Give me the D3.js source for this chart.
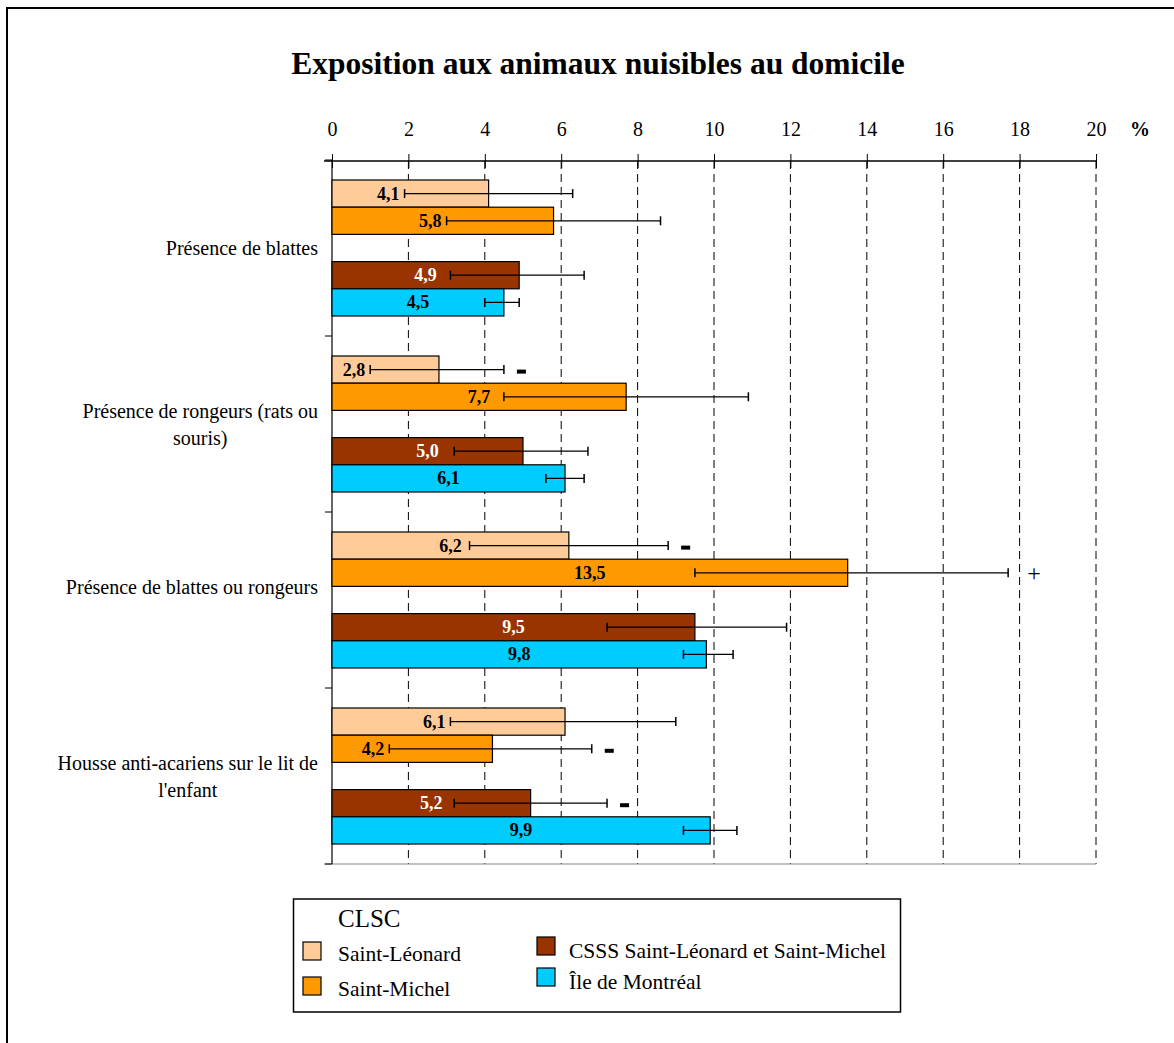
<!DOCTYPE html>
<html><head><meta charset="utf-8">
<script src="https://cdn.jsdelivr.net/npm/d3@7"></script>
<style>
body{margin:0;background:#fff;}
svg text{font-family:"Liberation Serif","Times New Roman",serif;}
</style></head>
<body><svg id="c" width="1174" height="1043"></svg>
<script>
const title = "Exposition aux animaux nuisibles au domicile";
const categories = ["Présence de blattes", "Présence de rongeurs (rats ou souris)", "Présence de blattes ou rongeurs", "Housse anti-acariens sur le lit de l'enfant"];
const categoryLines = [["Présence de blattes"], ["Présence de rongeurs (rats ou", "souris)"], ["Présence de blattes ou rongeurs", ""], ["Housse anti-acariens sur le lit de", "l'enfant"]];
const series = ["Saint-Léonard", "Saint-Michel", "CSSS Saint-Léonard et Saint-Michel", "Île de Montréal"];
const colors = ["#FFCC99", "#FF9900", "#993300", "#00CCFF"];
const labelColors = ["#000", "#000", "#fff", "#000"];
const valSaintLeonard = [4.1, 2.8, 6.2, 6.1];
const valSaintMichel = [5.8, 7.7, 13.5, 4.2];
const valCSSS = [4.9, 5.0, 9.5, 5.2];
const valIle = [4.5, 6.1, 9.8, 9.9];
const lowSaintLeonard = [1.9, 1.0, 3.6, 3.1];
const highSaintLeonard = [6.3, 4.5, 8.8, 9.0];
const lowSaintMichel = [3.0, 4.5, 9.5, 1.5];
const highSaintMichel = [8.6, 10.9, 17.7, 6.8];
const lowCSSS = [3.1, 3.2, 7.2, 3.2];
const highCSSS = [6.6, 6.7, 11.9, 7.2];
const lowIle = [4.0, 5.6, 9.2, 9.2];
const highIle = [4.9, 6.6, 10.5, 10.6];
const sigSaintLeonard = ["", "-", "-", ""];
const sigSaintMichel = ["", "", "+", "-"];
const sigCSSS = ["", "", "", "-"];
const sigIle = ["", "", "", ""];
const xTicks = [0, 2, 4, 6, 8, 10, 12, 14, 16, 18, 20];
const unitLabel = "%";
const legendTitle = "CLSC";

const values = [valSaintLeonard, valSaintMichel, valCSSS, valIle];
const lows = [lowSaintLeonard, lowSaintMichel, lowCSSS, lowIle];
const highs = [highSaintLeonard, highSaintMichel, highCSSS, highIle];
const sigs = [sigSaintLeonard, sigSaintMichel, sigCSSS, sigIle];
const fmt = v => d3.format(".1f")(v).replace(".", ",");

const svg = d3.select("#c");
svg.append("path").attr("d", "M7,1043 L7,8 L1174,8").attr("fill", "none").attr("stroke", "#000").attr("stroke-width", 2);

svg.append("text").attr("x", 598).attr("y", 74).attr("text-anchor", "middle")
  .attr("font-size", 31.5).attr("font-weight", "bold").text(title);

const x = d3.scaleLinear().domain([0, 20]).range([332, 1096]);
const y = d3.scaleBand().domain(categories).range([160, 864]);
const slot = d3.scaleBand().domain([0, 1, 2, 3, 4]).range([20, 156]);
const slotOf = [0, 1, 3, 4];

svg.append("g").selectAll("line").data(xTicks.filter(d => d > 0)).join("line")
  .attr("x1", d => x(d)).attr("x2", d => x(d)).attr("y1", 161).attr("y2", 864)
  .attr("stroke", "#000").attr("stroke-width", 1).attr("stroke-dasharray", "8,5");

svg.append("line").attr("x1", 324).attr("x2", x(20)).attr("y1", 864).attr("y2", 864)
  .attr("stroke", "#888").attr("stroke-width", 1.2);

const axTop = svg.append("g").attr("transform", "translate(0,161)")
  .call(d3.axisTop(x).tickValues(xTicks).tickSize(7).tickPadding(18).tickFormat(d3.format("d")));
axTop.select(".domain").remove();
axTop.append("line").attr("x1", 324).attr("x2", x(20)).attr("stroke", "#000").attr("stroke-width", 1.5);
axTop.selectAll(".tick line").clone().attr("y2", 7);
axTop.selectAll(".tick text").attr("font-size", 20).attr("font-family", "Liberation Serif").attr("fill", "#000");
svg.append("text").attr("x", 1140).attr("y", 136).attr("text-anchor", "middle")
  .attr("font-size", 20).attr("font-weight", "bold").text(unitLabel);

svg.append("line").attr("x1", 332).attr("x2", 332).attr("y1", 160).attr("y2", 864).attr("stroke", "#000").attr("stroke-width", 1.2);
svg.append("g").selectAll("line").data(categories).join("line")
  .attr("x1", 325).attr("x2", 332).attr("y1", d => y(d)).attr("y2", d => y(d)).attr("stroke", "#000");
svg.append("line").attr("x1", 325).attr("x2", 332).attr("y1", 864).attr("y2", 864).attr("stroke", "#000");

categories.forEach((c, i) => {
  const lines = categoryLines[i];
  const g = svg.append("g");
  const lh = 27;
  const cy = y(c) + y.bandwidth() / 2;
  const ts = lines.map((l, j) => g.append("text").attr("font-size", 20)
    .attr("y", cy + (j - (lines.length - 1) / 2) * lh + 7).attr("text-anchor", "middle").text(l));
  const maxW = d3.max(ts, t => t.node().getComputedTextLength());
  ts.forEach(t => t.attr("x", 318 - maxW / 2));
});

series.forEach((s, si) => {
  const g = svg.append("g");
  categories.forEach((c, ci) => {
    const v = values[si][ci];
    const y0 = y(c) + slot(slotOf[si]);
    const h = slot.bandwidth();
    g.append("rect").attr("x", x(0)).attr("y", y0).attr("width", x(v) - x(0)).attr("height", h)
      .attr("fill", colors[si]).attr("stroke", "#000").attr("stroke-width", 1.2);
    const cyy = y0 + h / 2;
    const t = g.append("text").attr("font-size", 18).attr("font-weight", "bold").attr("fill", labelColors[si])
      .attr("y", cyy + 6).attr("text-anchor", "middle").text(fmt(v));
    const w = t.node().getComputedTextLength();
    let cx = (x(0) + x(v)) / 2;
    if (cx + w / 2 + 5 > x(lows[si][ci]) && x(lows[si][ci]) < x(v)) cx = x(lows[si][ci]) - 5 - w / 2;
    t.attr("x", cx);
    const lo = x(lows[si][ci]), hi = x(highs[si][ci]);
    g.append("line").attr("x1", lo).attr("x2", hi).attr("y1", cyy).attr("y2", cyy).attr("stroke", "#000").attr("stroke-width", 1.2);
    [lo, hi].forEach(px => g.append("line").attr("x1", px).attr("x2", px).attr("y1", cyy - 4.5).attr("y2", cyy + 4.5).attr("stroke", "#000").attr("stroke-width", 1.5));
    const m = sigs[si][ci];
    if (m === "-") {
      g.append("rect").attr("x", hi + 13).attr("y", cyy).attr("width", 9).attr("height", 4).attr("fill", "#000");
    } else if (m === "+") {
      g.append("text").attr("x", hi + 26).attr("y", cyy + 8).attr("text-anchor", "middle")
        .attr("font-size", 24).text("+");
    }
  });
});

const lg = svg.append("g");
lg.append("rect").attr("x", 293.5).attr("y", 899).attr("width", 607).attr("height", 113)
  .attr("fill", "#fff").attr("stroke", "#000").attr("stroke-width", 1.5);
lg.append("text").attr("x", 338).attr("y", 927).attr("font-size", 25).text(legendTitle);
const legPos = [[303, 942, 338, 961], [303, 977, 338, 996], [537, 937, 569, 958], [537, 968, 569, 989]];
series.forEach((s, i) => {
  const p = legPos[i];
  lg.append("rect").attr("x", p[0]).attr("y", p[1]).attr("width", 18).attr("height", 18)
    .attr("fill", colors[i]).attr("stroke", "#000").attr("stroke-width", 1.2);
  lg.append("text").attr("x", p[2]).attr("y", p[3]).attr("font-size", 21.5).text(s);
});
</script></body></html>
